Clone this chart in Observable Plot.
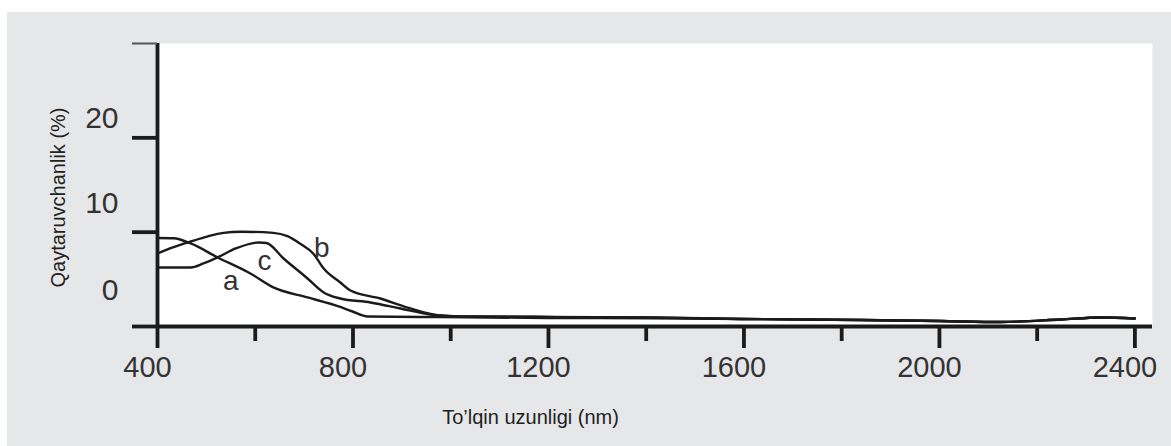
<!DOCTYPE html>
<html>
<head>
<meta charset="utf-8">
<script src="https://cdn.jsdelivr.net/npm/d3@7"></script>
<script src="https://cdn.jsdelivr.net/npm/@observablehq/plot@0.6"></script>
<style>
  html, body { margin: 0; padding: 0; background: #ffffff; }
  #chart { position: absolute; left: 7px; top: 12px; }
  #chart svg { display: block; }
</style>
</head>
<body>
<div id="chart"></div>
<script>
// Wavelength (nm) and reflectance values
const waveA = [400, 433, 468, 523, 590, 637, 707, 774, 799, 830, 979, 1198, 1409, 1593, 1839, 2002, 2125, 2248, 2330, 2400];
const reflA = [9.38, 9.36, 8.80, 7.32, 5.62, 4.14, 3.08, 2.07, 1.59, 1.06, 1.0, 0.9, 0.88, 0.8, 0.69, 0.58, 0.48, 0.74, 0.95, 0.85];

const waveB = [400, 433, 468, 503, 535, 570, 637, 666, 692, 719, 740, 774, 795, 856, 912, 979, 1040, 1198, 1409, 1593, 1839, 2002, 2125, 2248, 2330, 2400];
const reflB = [7.74, 8.41, 9.01, 9.56, 9.93, 10.05, 9.93, 9.57, 8.77, 7.71, 6.15, 4.67, 3.82, 2.97, 2.01, 1.17, 1.06, 1.02, 0.97, 0.8, 0.69, 0.58, 0.48, 0.74, 0.95, 0.85];

const waveC = [400, 468, 494, 523, 560, 607, 623, 658, 707, 740, 774, 836, 897, 958, 1020, 1198, 1409, 1593, 1839, 2002, 2125, 2248, 2330, 2400];
const reflC = [6.26, 6.26, 6.68, 7.32, 8.27, 8.91, 8.85, 7.21, 5.09, 3.61, 2.97, 2.55, 1.91, 1.27, 1.06, 1.0, 0.95, 0.8, 0.69, 0.58, 0.48, 0.74, 0.95, 0.85];

// Curve letters and their positions
const curveNames = ["a", "c", "b"];
const curveLabelX = [550, 619, 736];
const curveLabelY = [4.8, 6.9, 8.3];

// Axis ticks and labels
const xTicksMajor = [400, 800, 1200, 1600, 2000, 2400];
const xTicksMinor = [600, 1000, 1400, 1800, 2200];
const yTicksMajor = [0, 10, 20];
const yTickTop = [30];
const yLabels = ["0", "10", "20"];
const yLabelPos = [3.8, 13.0, 22.1];

const xTitle = "To’lqin uzunligi (nm)";
const yTitle = "Qaytaruvchanlik (%)";

const rows = [
  ...waveA.map((w, i) => ({curve: "a", nm: w, r: reflA[i]})),
  ...waveB.map((w, i) => ({curve: "b", nm: w, r: reflB[i]})),
  ...waveC.map((w, i) => ({curve: "c", nm: w, r: reflC[i]}))
];

const ink = "#1b1b1b";
const textInk = "#333333";

const chart = Plot.plot({
  width: 1164,
  height: 434,
  marginLeft: 150,
  marginRight: 19,
  marginTop: 31,
  marginBottom: 120,
  style: {background: "#e6e7e9", fontFamily: "'Liberation Sans', Arial, sans-serif", color: textInk, overflow: "visible"},
  x: {domain: [400, 2436], label: null},
  y: {domain: [0, 30], label: null},
  marks: [
    Plot.frame({fill: "white", stroke: null}),
    Plot.line(rows, {x: "nm", y: "r", z: "curve", stroke: ink, strokeWidth: 2.4, curve: "monotone-x"}),
    Plot.text(curveNames, {x: curveLabelX, y: curveLabelY, text: d => d, fontSize: 28, fill: textInk}),
    Plot.ruleY([0], {stroke: ink, strokeWidth: 3.8}),
    Plot.ruleX([400], {stroke: ink, strokeWidth: 3.8}),
    Plot.axisY(yTicksMajor, {tickSize: 25, tickFormat: () => "", stroke: ink, strokeWidth: 3.8, label: null}),
    Plot.axisY(yTickTop, {tickSize: 25, tickFormat: () => "", stroke: "#555", strokeWidth: 2, label: null}),
    Plot.axisX(xTicksMajor, {tickSize: 22, tickFormat: () => "", stroke: ink, strokeWidth: 3.8, label: null}),
    Plot.axisX(xTicksMinor, {tickSize: 15, tickFormat: () => "", stroke: ink, strokeWidth: 3.8, label: null}),
    Plot.axisX(xTicksMajor, {tickSize: 0, tickPadding: 30, dx: -10, fontSize: 29, fill: textInk, tickFormat: d => String(d), label: null}),
    Plot.text(yLabels, {y: yLabelPos, text: d => d, frameAnchor: "left", dx: -39, textAnchor: "end", fontSize: 30, fill: textInk}),
    Plot.text([yTitle], {frameAnchor: "left", dx: -99, dy: 12.5, rotate: -90, textAnchor: "middle", lineAnchor: "middle", fontSize: 20, fill: "#222"}),
    Plot.text([xTitle], {frameAnchor: "bottom", dx: -124.5, dy: 91.5, textAnchor: "middle", lineAnchor: "middle", fontSize: 20, fill: "#222"})
  ]
});

document.getElementById("chart").append(chart);
</script>
</body>
</html>
